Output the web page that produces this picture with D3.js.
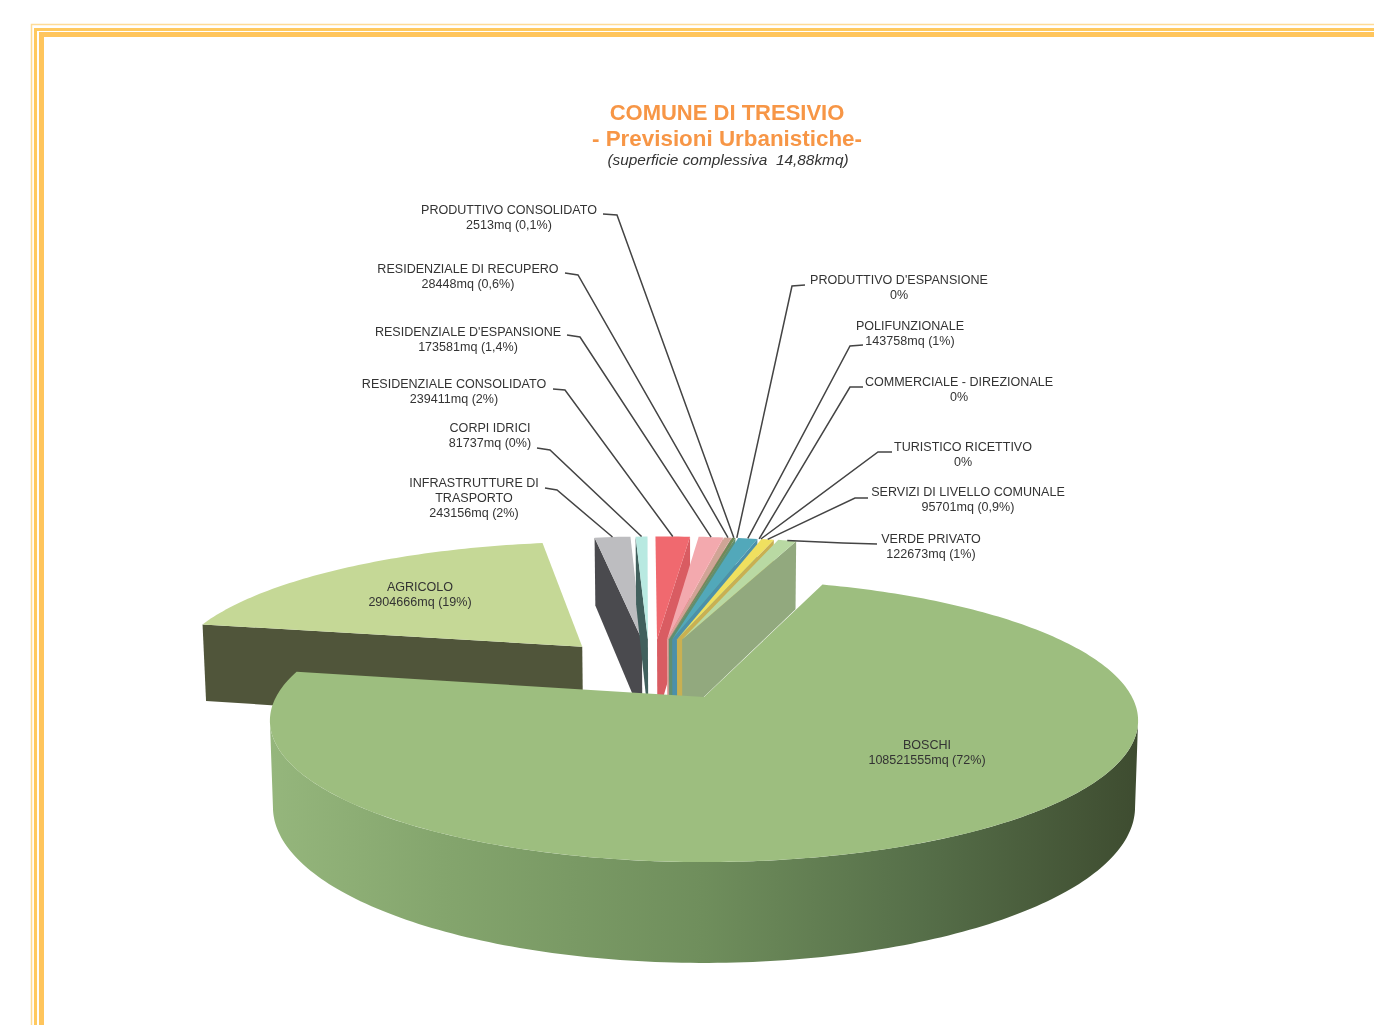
<!DOCTYPE html>
<html><head><meta charset="utf-8">
<script src="https://cdn.jsdelivr.net/npm/d3@7"></script>
<style>html,body{margin:0;padding:0;background:#fff;overflow:hidden}svg{display:block;filter:blur(0.4px)}text{font-family:"Liberation Sans",Arial,sans-serif}</style>
</head><body><svg id="c" width="1374" height="1025"></svg>
<script>
// ---- data ----
const names = [["BOSCHI"],["AGRICOLO"],["INFRASTRUTTURE DI","TRASPORTO"],["CORPI IDRICI"],["RESIDENZIALE CONSOLIDATO"],["RESIDENZIALE D'ESPANSIONE"],["RESIDENZIALE DI RECUPERO"],["PRODUTTIVO CONSOLIDATO"],["PRODUTTIVO D'ESPANSIONE"],["POLIFUNZIONALE"],["COMMERCIALE - DIREZIONALE"],["TURISTICO RICETTIVO"],["SERVIZI DI LIVELLO COMUNALE"],["VERDE PRIVATO"]];
const valueLabels = ["108521555mq (72%)","2904666mq (19%)","243156mq (2%)","81737mq (0%)","239411mq (2%)","173581mq (1,4%)","28448mq (0,6%)","2513mq (0,1%)","0%","143758mq (1%)","0%","0%","95701mq (0,9%)","122673mq (1%)"];
// drawn share of each slice, as measured on the picture
const shares = [72.85,19.4,1.66,0.55,1.6,1.15,0.33,0.15,0,0.9,0,0,0.58,0.85];
// ---- styling and layout ----
const topColors  = ["#9dbe7f","#c5d896","#bdbdc0","#b8e9e1","#f0696f","#f3a9ae","#cfa596","#6f8a58","#6f8a58","#52a8ba","#52a8ba","#f0e05f","#f0e05f","#b9d9a3"];
const wallColors = ["url(#rim)","#50553a","#4a4a4e","#41605d","#d95c62","#e2a09c","#b99484","#5f8f70","#5f8f70","#4c90aa","#4c90aa","#c9b052","#c9b052","#92a97e"];
const wallSide   = [null,"start","start","start","end","end","end","end","end","end","end","end","end","end"];
const explodeU   = [0,-0.303,-0.156,-0.141,-0.118,-0.093,-0.09,-0.088,-0.084,-0.08,-0.075,-0.07,-0.068,-0.055];
const explodeV   = [0,0.39,0.45,0.45,0.45,0.45,0.45,0.45,0.45,0.45,0.45,0.45,0.45,0.45];
const labelX     = [927,420,474,490,454,468,468,509,899,910,959,963,968,931];
const labelY     = [745,587,483,428,384,332,269,210,280,326,382,447,492,539];
const stubs = [null,null,[[545,488],[557,490]],[[537,448],[550,450]],[[553,389],[565,390]],[[567,335],[580,337]],[[565,273],[578,275]],[[603,214],[617,215]],[[805,285],[792,286]],[[863,345],[850,346]],[[863,387],[850,387]],[[892,452],[878,452]],[[868,498],[855,498]],[[877,544],[843,543]]];
const drawOrder = [2,3,4,5,6,7,8,9,10,11,12,13,1,0];

const cx=704, cy=697, Rx=428, Ry=137.5, k=0.167, D=84, shrink=0.007;
const svg = d3.select("#c");

// border
const border = [{o:31.5,w:1.5,c:"#ffdc96"},{o:35.5,w:3,c:"#ffc95f"},{o:41.5,w:5,c:"#ffc55c"}];
const yoff = [24.5,29.5,34.5];
border.forEach((b,i)=>{
  svg.append("path").attr("d",`M${b.o},1025V${yoff[i]}H1374`).attr("fill","none").attr("stroke",b.c).attr("stroke-width",b.w);
});

// rim gradient
const g = svg.append("defs").append("linearGradient").attr("id","rim").attr("gradientUnits","userSpaceOnUse")
  .attr("x1",270).attr("x2",1138).attr("y1",0).attr("y2",0);
[[0,"#95b67c"],[0.2,"#84a56d"],[0.5,"#6f8e5c"],[0.75,"#566f49"],[1,"#3e4c30"]].forEach(s=>g.append("stop").attr("offset",s[0]).attr("stop-color",s[1]));

// ground plane -> screen
function project(i,theta,r,z){
  const u=explodeU[i]+r*Math.sin(theta), v=explodeV[i]+r*Math.cos(theta), s=1/(1+k*v);
  return [cx+Rx*u*s*(1-shrink*z), cy-Ry*v*s+z*D*s];
}
const start=18.7*Math.PI/180;
const arcs=d3.pie().sort(null).startAngle(start).endAngle(start+2*Math.PI)(shares);
const line=d3.line();
const closed=d3.line().curve(d3.curveLinearClosed);
const step=Math.PI/180;
const angles=(a,b)=>{const n=Math.max(1,Math.ceil((b-a)/step));return d3.range(n+1).map(j=>a+(b-a)*j/n);};
// part of the rim that faces the viewer
const rimFrom=Math.acos(-k), rimTo=2*Math.PI-Math.acos(-k);

const chart=svg.append("g");
drawOrder.forEach(i=>{
  const a=arcs[i]; if(a.endAngle-a.startAngle<=0) return;
  const th=angles(a.startAngle,a.endAngle);
  if(wallSide[i]){
    const e=wallSide[i]==="start"?a.startAngle:a.endAngle;
    chart.append("path").attr("d",closed([project(i,e,1,0),project(i,0,0,0),project(i,0,0,1),project(i,e,1,1)])).attr("fill",wallColors[i]);
  }
  if(i===0){
    const rim=angles(rimFrom,rimTo);
    const up=rim.map(t=>project(i,t,1,0)), dn=rim.map(t=>project(i,t,1,1)).reverse();
    chart.append("path").attr("d",closed(up.concat(dn))).attr("fill",wallColors[i]);
  }
  const pts=[project(i,0,0,0)].concat(th.map(t=>project(i,t,1,0)));
  chart.append("path").attr("d",closed(pts)).attr("fill",topColors[i]);
});

// leaders
arcs.forEach((a,i)=>{
  if(!stubs[i]) return;
  const end=project(i,(a.startAngle+a.endAngle)/2,1,0);
  svg.append("path").attr("d",line(stubs[i].concat([end]))).attr("fill","none").attr("stroke","#444").attr("stroke-width",1.5);
});

// labels
names.forEach((n,i)=>{
  const t=svg.append("text").attr("text-anchor","middle").attr("font-size",12.55).attr("fill","#333")
    .attr("x",labelX[i]).attr("y",labelY[i]+4);
  n.concat([valueLabels[i]]).forEach((s,j)=>t.append("tspan").attr("x",labelX[i]).attr("dy",j?15:0).text(s));
});

// titles
const titleLines=[["COMUNE DI TRESIVIO",727,120,22,"bold","normal","#f79646"],["- Previsioni Urbanistiche-",727,146,22.4,"bold","normal","#f79646"],["(superficie complessiva  14,88kmq)",728,165,15.4,"normal","italic","#333"]];
titleLines.forEach(l=>svg.append("text").attr("text-anchor","middle").attr("x",l[1]).attr("y",l[2]).attr("font-size",l[3]).attr("font-weight",l[4]).attr("font-style",l[5]).attr("fill",l[6]).style("white-space","pre").text(l[0]));
</script></body></html>
